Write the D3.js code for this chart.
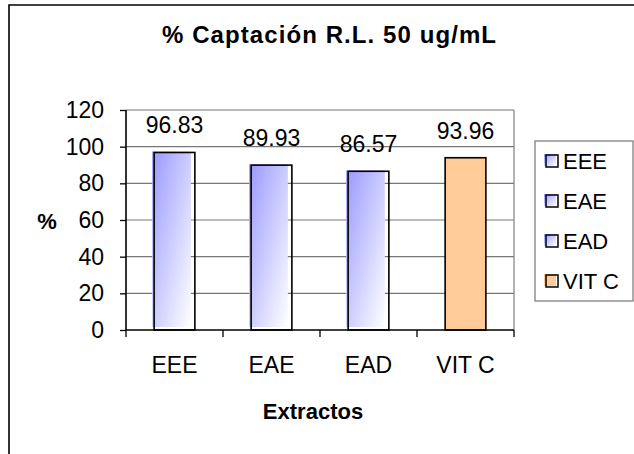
<!DOCTYPE html>
<html lang="es">
<head>
  <meta charset="UTF-8">
  <title>% Captación R.L. 50 ug/mL</title>
  <script src="https://d3js.org/d3.v7.min.js"></script>
  <style>
    body { margin: 0; background: #fff; }
    text { font-family: "Liberation Sans", Arial, sans-serif; fill: #000; }
  </style>
</head>
<body>
  <div id="chart"></div>

  <script>
    // Chart data
    const categories = ['EEE', 'EAE', 'EAD', 'VIT C'];
    const values = [96.83, 89.93, 86.57, 93.96];
    const yTicks = [0, 20, 40, 60, 80, 100, 120];
    const legendLabels = ['EEE', 'EAE', 'EAD', 'VIT C'];

    function renderChart() {
      const width = 634, height = 454;
      const plot = { left: 126, right: 514, top: 110, bottom: 330 };

      const svg = d3.select('#chart')
        .append('svg')
        .attr('width', width)
        .attr('height', height);

      const defs = svg.append('defs');
      const grad = defs.append('linearGradient')
        .attr('id', 'blueGrad')
        .attr('x1', '0%').attr('y1', '0%')
        .attr('x2', '100%').attr('y2', '100%');
      grad.append('stop').attr('offset', '0%').attr('stop-color', '#9999ff');
      grad.append('stop').attr('offset', '100%').attr('stop-color', '#ffffff');

      const colorFor = (c) => c === 'VIT C' ? '#ffcc99' : 'url(#blueGrad)';

      // Outer chart frame (right and bottom fall outside the view)
      svg.append('path')
        .attr('d', `M9,${height + 5} L9,5 L${width + 5},5`)
        .attr('fill', 'none')
        .attr('stroke', '#000')
        .attr('stroke-width', 1.6);

      // Title
      svg.append('text')
        .attr('x', 329)
        .attr('y', 43)
        .attr('text-anchor', 'middle')
        .attr('font-size', '24px')
        .attr('font-weight', 'bold')
        .attr('textLength', 334)
        .attr('lengthAdjust', 'spacing')
        .text('% Captación R.L. 50 ug/mL');

      const x = d3.scaleBand()
        .domain(categories)
        .range([plot.left, plot.right])
        .padding(0);

      const y = d3.scaleLinear()
        .domain([0, 120])
        .range([plot.bottom, plot.top]);

      // Gridlines
      svg.append('g')
        .selectAll('line')
        .data(yTicks.filter(d => d > 0))
        .join('line')
        .attr('x1', plot.left)
        .attr('x2', plot.right)
        .attr('y1', d => y(d))
        .attr('y2', d => y(d))
        .attr('stroke', '#777')
        .attr('stroke-width', 1.2);

      // Plot area right border
      svg.append('line')
        .attr('x1', plot.right).attr('x2', plot.right)
        .attr('y1', plot.top).attr('y2', plot.bottom)
        .attr('stroke', '#808080')
        .attr('stroke-width', 1.2);

      // Bars
      const barW = x.bandwidth() * 0.42;
      const bars = svg.append('g')
        .selectAll('g')
        .data(categories.map((c, i) => ({ c, v: values[i] })))
        .join('g');

      bars.append('rect')
        .attr('x', d => x(d.c) + (x.bandwidth() - barW) / 2 - (d.c === 'VIT C' ? 0 : 2))
        .attr('y', d => y(d.v) - (d.c === 'VIT C' ? 0 : 1))
        .attr('width', d => barW - (d.c === 'VIT C' ? 0 : 2))
        .attr('height', d => y(0) - y(d.v) - (d.c === 'VIT C' ? 0 : 2))
        .attr('fill', d => colorFor(d.c));

      bars.append('rect')
        .attr('x', d => x(d.c) + (x.bandwidth() - barW) / 2)
        .attr('y', d => y(d.v))
        .attr('width', barW)
        .attr('height', d => y(0) - y(d.v))
        .attr('fill', 'none')
        .attr('stroke', '#000')
        .attr('stroke-width', 1.6);

      // Value labels
      bars.append('text')
        .attr('x', d => x(d.c) + x.bandwidth() / 2)
        .attr('y', d => y(d.v) - 19)
        .attr('text-anchor', 'middle')
        .attr('font-size', '23px')
        .text(d => d.v.toFixed(2));

      // Y axis
      const yAxis = svg.append('g')
        .attr('transform', `translate(${plot.left},0)`)
        .call(d3.axisLeft(y).tickValues(yTicks).tickSize(6).tickPadding(16));
      yAxis.select('.domain').attr('stroke', '#000').attr('stroke-width', 1.6)
        .attr('d', `M0,${plot.top}V${plot.bottom}`);
      yAxis.selectAll('.tick line').attr('stroke', '#000').attr('stroke-width', 1.3);
      yAxis.selectAll('.tick text')
        .attr('font-size', '23px')
        .attr('font-family', '"Liberation Sans", Arial, sans-serif')
        .attr('fill', '#000');

      // X axis
      const xAxis = svg.append('g')
        .attr('transform', `translate(0,${plot.bottom})`)
        .call(d3.axisBottom(x).tickSize(0).tickPadding(27));
      xAxis.select('.domain').attr('stroke', '#000').attr('stroke-width', 1.6)
        .attr('d', `M${plot.left},0H${plot.right}`);
      xAxis.selectAll('.tick text')
        .attr('font-size', '23px')
        .attr('font-family', '"Liberation Sans", Arial, sans-serif')
        .attr('fill', '#000');

      // Category separator ticks
      svg.append('g')
        .selectAll('line')
        .data(categories.concat(['end']))
        .join('line')
        .attr('x1', (d, i) => i < categories.length ? x(d) : plot.right)
        .attr('x2', (d, i) => i < categories.length ? x(d) : plot.right)
        .attr('y1', plot.bottom)
        .attr('y2', plot.bottom + 7)
        .attr('stroke', '#000')
        .attr('stroke-width', 1.3);

      // Axis titles
      svg.append('text')
        .attr('x', 47)
        .attr('y', 229)
        .attr('text-anchor', 'middle')
        .attr('font-size', '22px')
        .attr('font-weight', 'bold')
        .text('%');

      svg.append('text')
        .attr('x', 313)
        .attr('y', 419)
        .attr('text-anchor', 'middle')
        .attr('font-size', '22px')
        .attr('font-weight', 'bold')
        .text('Extractos');

      // Legend
      const legend = svg.append('g').attr('transform', 'translate(535,141)');
      legend.append('rect')
        .attr('width', 98)
        .attr('height', 160)
        .attr('fill', '#fff')
        .attr('stroke', '#808080')
        .attr('stroke-width', 1.3);

      const items = legend.selectAll('g.item')
        .data(legendLabels)
        .join('g')
        .attr('class', 'item')
        .attr('transform', (d, i) => `translate(0,${20 + i * 40})`);

      items.append('rect')
        .attr('x', 9).attr('y', -7)
        .attr('width', 12).attr('height', 12)
        .attr('fill', d => colorFor(d));

      items.append('rect')
        .attr('x', 11).attr('y', -6)
        .attr('width', 12).attr('height', 12)
        .attr('fill', 'none')
        .attr('stroke', '#000')
        .attr('stroke-width', 1.5);

      items.append('text')
        .attr('x', 28)
        .attr('y', 8)
        .attr('font-size', '22px')
        .text(d => d);
    }

    document.addEventListener('DOMContentLoaded', renderChart);
  </script>
</body>
</html>
